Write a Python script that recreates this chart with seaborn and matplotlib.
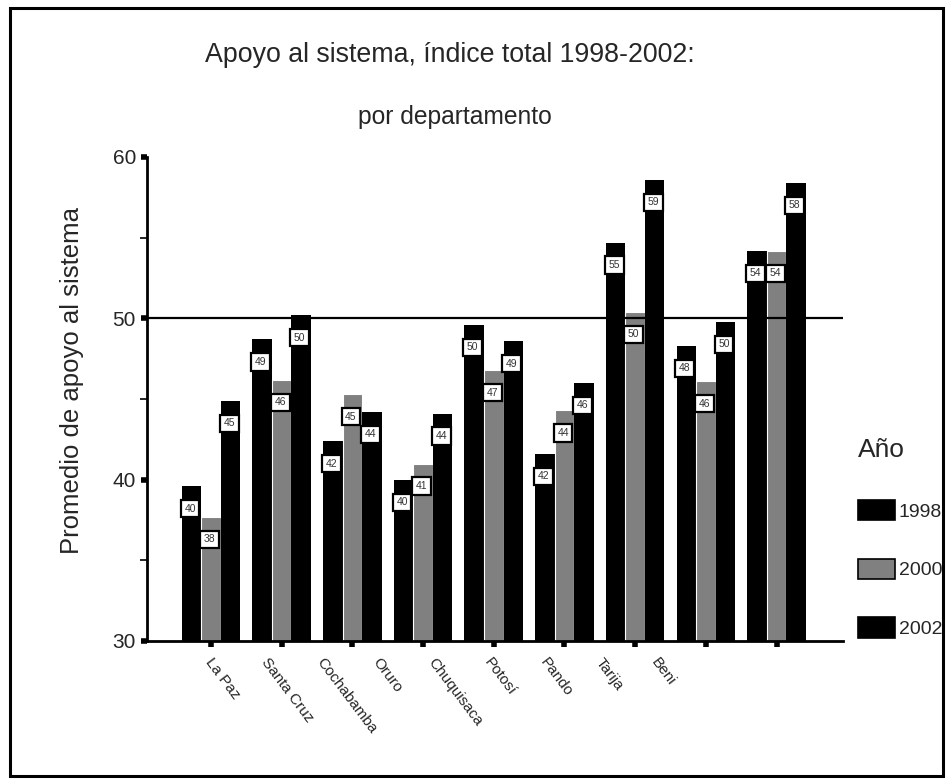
import matplotlib
matplotlib.use("Agg")
import matplotlib.pyplot as plt
import matplotlib.transforms as mtransforms
from matplotlib.patches import Patch, Rectangle
from matplotlib import font_manager
import numpy as np
import pandas as pd
import seaborn as sns

# ---- data ----
departamentos = ["La Paz", "Santa Cruz", "Cochabamba", "Oruro", "Chuquisaca",
                 "Potosí", "Pando", "Tarija", "Beni"]
anios = ["1998", "2000", "2002"]
valores_1998 = [39.6, 48.7, 42.4, 40.0, 49.6, 41.6, 54.7, 48.3, 54.2]
valores_2000 = [37.7, 46.2, 45.3, 41.0, 46.8, 44.3, 50.4, 46.1, 54.2]
valores_2002 = [44.9, 50.2, 44.2, 44.1, 48.6, 46.0, 58.6, 49.8, 58.4]
y_ticks = [30, 40, 50, 60]

df = pd.DataFrame({
    "Departamento": departamentos * 3,
    "Año": [anios[0]] * 9 + [anios[1]] * 9 + [anios[2]] * 9,
    "Valor": valores_1998 + valores_2000 + valores_2002,
})

sns.set_theme(style="white")
plt.rcParams["font.family"] = ["Liberation Sans", "DejaVu Sans"]

# pick a condensed family for the category labels if one is installed
installed = {f.name for f in font_manager.fontManager.ttflist}
narrow = [f for f in ["Liberation Sans Narrow", "DejaVu Sans Condensed"] if f in installed]
label_family = narrow + ["Liberation Sans"]
label_size = 12 if narrow else 11

W, H = 952, 784
fig = plt.figure(figsize=(W / 100, H / 100), dpi=100)
ax = fig.add_axes([147 / W, 1 - 641 / H, (843 - 147) / W, (641 - 157) / H])

palette = {"1998": "#000000", "2000": "#808080", "2002": "#000000"}
sns.barplot(data=df, x="Departamento", y="Valor", hue="Año", hue_order=anios,
            order=departamentos, palette=palette, width=0.83, saturation=1,
            linewidth=0, ax=ax, legend=False)

# white separation line on the gray bars
for bar in ax.containers[1]:
    bar.set_edgecolor("white")
    bar.set_linewidth(0.8)

ax.set_ylim(30, 60)
ax.set_xlim(-0.905, 8.94)
ax.axhline(50, color="black", lw=1.6, zorder=1)

# value labels
for cont in ax.containers:
    for bar in cont:
        h = bar.get_height()
        xc = bar.get_x() + bar.get_width() / 2 - 0.02
        ax.text(xc, h - 1.4, f"{h:.0f}", ha="center", va="center",
                fontsize=7.5, color="#333333", zorder=5,
                bbox=dict(boxstyle="square,pad=0.35", fc="white", ec="black", lw=1.6))

# axes styling
for s in ["top", "right"]:
    ax.spines[s].set_visible(False)
for s in ["left", "bottom"]:
    ax.spines[s].set_linewidth(2)
    ax.spines[s].set_color("black")
ax.set_yticks(y_ticks)
ax.set_yticks([35, 45, 55], minor=True)
ax.tick_params(axis="y", which="major", direction="out", length=4, width=4,
               labelsize=15, pad=4, left=True, color="black")
ax.tick_params(axis="y", which="minor", direction="out", length=5, width=1.2,
               left=True, color="black")
ax.set_xticks(range(len(departamentos)))
ax.set_xticklabels([""] * len(departamentos))
ax.tick_params(axis="x", which="major", direction="out", length=4, width=4,
               bottom=True, color="black")
ax.set_xlabel("")
ax.set_ylabel("Promedio de apoyo al sistema", fontsize=18.5)
ax.yaxis.set_label_coords(-0.09, 0.539)

# rotated category labels (compressed placement as in the original)
trans = mtransforms.blended_transform_factory(ax.transData, ax.transAxes)
for i, name in enumerate(departamentos):
    ax.text(0.04 + 0.788 * i, -0.03, name, transform=trans, rotation=-53,
            rotation_mode="anchor", ha="left", va="top", fontsize=label_size,
            family=label_family)

# titles
fig.text(450 / W, 1 - 55 / H, "Apoyo al sistema, índice total 1998-2002:",
         ha="center", va="center", fontsize=19.3)
fig.text(455 / W, 1 - 117 / H, "por departamento", ha="center", va="center",
         fontsize=17.7)

# legend
handles = [Patch(facecolor=palette[a], edgecolor="black", lw=1.2) for a in anios]
leg = fig.legend(handles, anios, title="Año", loc="upper left",
                 bbox_to_anchor=(858 / W, 1 - 438 / H), frameon=False,
                 fontsize=14, title_fontsize=19, handlelength=1.9,
                 handleheight=1.24, handletextpad=0.2, labelspacing=1.95,
                 borderpad=0, borderaxespad=0, alignment="left")

# outer frame
fig.patches.append(Rectangle((10 / W, 1 - 776 / H), (943 - 10) / W, (776 - 8) / H,
                             transform=fig.transFigure, fill=False,
                             ec="black", lw=2.2))

fig.savefig("out.png", dpi=100)
